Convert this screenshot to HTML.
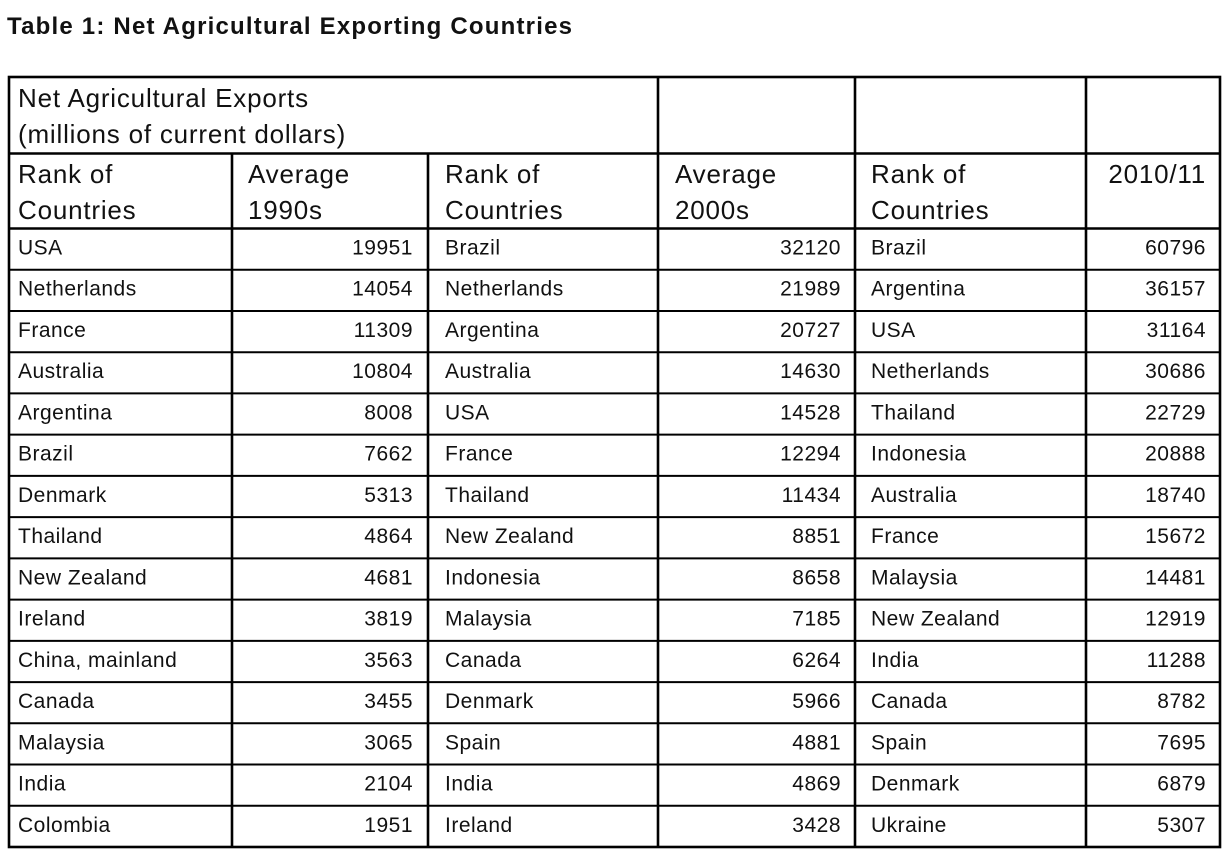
<!DOCTYPE html>
<html><head><meta charset="utf-8"><style>
html,body{margin:0;padding:0;background:#fff;}
svg{display:block;}
text{font-family:"Liberation Sans",sans-serif;fill:#111;}
</style></head><body>
<svg width="1231" height="859" viewBox="0 0 1231 859" xmlns="http://www.w3.org/2000/svg">
<text x="7" y="34" font-size="24" font-weight="bold" textLength="565" lengthAdjust="spacing">Table 1: Net Agricultural Exporting Countries</text>
<g stroke="#000" stroke-width="2.6" fill="none">
<rect x="9" y="77" width="1211" height="770"/>
<line x1="9" y1="153.5" x2="1220" y2="153.5"/>
<line x1="9" y1="228.5" x2="1220" y2="228.5"/>
<line x1="658" y1="77" x2="658" y2="847"/>
<line x1="855" y1="77" x2="855" y2="847"/>
<line x1="1086" y1="77" x2="1086" y2="847"/>
<line x1="232" y1="153" x2="232" y2="847"/>
<line x1="428" y1="153" x2="428" y2="847"/>
</g>
<g stroke="#000" stroke-width="2" id="hl"></g>
<g font-size="26" letter-spacing="0.8">
<text x="18" y="107">Net Agricultural Exports</text>
<text x="18" y="143">(millions of current dollars)</text>
<text x="18" y="183">Rank of</text><text x="18" y="219">Countries</text>
<text x="248" y="183">Average</text><text x="248" y="219">1990s</text>
<text x="445" y="183">Rank of</text><text x="445" y="219">Countries</text>
<text x="675" y="183">Average</text><text x="675" y="219">2000s</text>
<text x="871" y="183">Rank of</text><text x="871" y="219">Countries</text>
<text x="1206" y="183" text-anchor="end">2010/11</text>
</g>
<g id="rows" font-size="21" letter-spacing="0.5"></g>
</svg>
<script>
var d=[["USA",19951,"Brazil",32120,"Brazil",60796],["Netherlands",14054,"Netherlands",21989,"Argentina",36157],["France",11309,"Argentina",20727,"USA",31164],["Australia",10804,"Australia",14630,"Netherlands",30686],["Argentina",8008,"USA",14528,"Thailand",22729],["Brazil",7662,"France",12294,"Indonesia",20888],["Denmark",5313,"Thailand",11434,"Australia",18740],["Thailand",4864,"New Zealand",8851,"France",15672],["New Zealand",4681,"Indonesia",8658,"Malaysia",14481],["Ireland",3819,"Malaysia",7185,"New Zealand",12919],["China, mainland",3563,"Canada",6264,"India",11288],["Canada",3455,"Denmark",5966,"Canada",8782],["Malaysia",3065,"Spain",4881,"Spain",7695],["India",2104,"India",4869,"Denmark",6879],["Colombia",1951,"Ireland",3428,"Ukraine",5307]];
var ns="http://www.w3.org/2000/svg",g=document.getElementById("rows"),hl=document.getElementById("hl");
var h=(847-228.5)/15;
function t(x,y,s,a){var e=document.createElementNS(ns,"text");e.setAttribute("x",x);e.setAttribute("y",y);if(a)e.setAttribute("text-anchor","end");e.textContent=s;g.appendChild(e);}
d.forEach(function(r,i){var top=228.5+i*h,y=top+26;
if(i>0){var l=document.createElementNS(ns,"line");l.setAttribute("x1",9);l.setAttribute("x2",1220);l.setAttribute("y1",top);l.setAttribute("y2",top);hl.appendChild(l);}
t(18,y,r[0]);t(413,y,r[1],1);t(445,y,r[2]);t(841,y,r[3],1);t(871,y,r[4]);t(1206,y,r[5],1);});
</script>
</body></html>
